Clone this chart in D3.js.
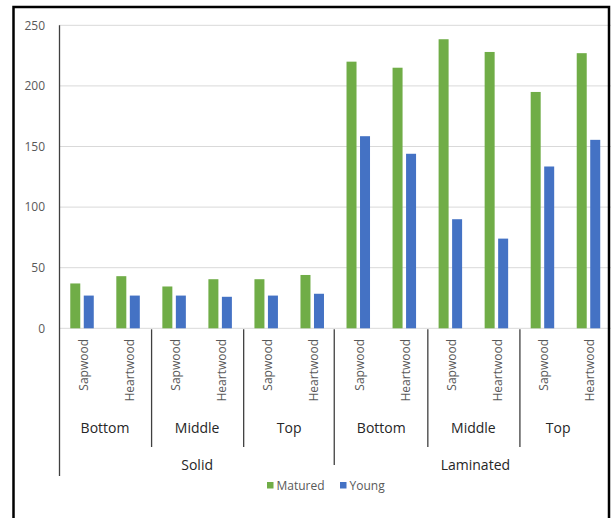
<!DOCTYPE html>
<html>
<head>
<meta charset="utf-8">
<script src="https://cdn.jsdelivr.net/npm/d3@7"></script>
<style>
  html, body { margin: 0; padding: 0; background: #fff; }
  svg { display: block; }
  text { font-family: "Open Sans", sans-serif; }
</style>
</head>
<body>
<svg id="chart" width="611" height="518"></svg>
<script>
// ---- data ----
const materials = ["Solid", "Laminated"];
const positions = ["Bottom", "Middle", "Top"];
const woods = ["Sapwood", "Heartwood"];
const seriesNames = ["Matured", "Young"];
const matured = [37, 43, 34.5, 40.5, 40.5, 44, 220, 215, 238.5, 228, 195, 227];
const young = [27, 27, 27, 26, 27, 28.5, 158.5, 144, 90, 74, 133.5, 155.5];
const yTicks = [0, 50, 100, 150, 200, 250];
const colors = ["#70AD47", "#4472C4"];

// build categories (material > position > wood)
const cats = [];
materials.forEach(m => positions.forEach(p => woods.forEach(w => cats.push({m, p, w, id: m + "|" + p + "|" + w}))));
cats.forEach((c, i) => { c.values = [matured[i], young[i]]; });

const svg = d3.select("#chart");
const plotLeft = 59, plotRight = 611.5, plotTop = 25.3, plotBottom = 328.3;
const visibleRight = 597; // label area is clipped by the frame on the right

const x = d3.scaleBand().domain(cats.map(c => c.id)).range([plotLeft, plotRight]).paddingInner(0).paddingOuter(0);
const y = d3.scaleLinear().domain([0, 250]).range([plotBottom, plotTop]);

const barW = 10, barGap = 3.5;
const groupW = barW * 2 + barGap;

// gridlines
svg.append("g").selectAll("line").data(yTicks).join("line")
  .attr("x1", plotLeft).attr("x2", plotRight)
  .attr("y1", d => y(d)).attr("y2", d => y(d))
  .attr("stroke", "#d9d9d9").attr("stroke-width", 1);

// y tick labels
const yAxis = svg.append("g").attr("transform", `translate(${plotLeft},0)`)
  .call(d3.axisLeft(y).tickValues(yTicks).tickSize(0).tickPadding(14));
yAxis.select(".domain").remove();
yAxis.selectAll("text").attr("font-size", 12).attr("fill", "#595959").attr("font-family", "Open Sans, sans-serif");

// bars
const g = svg.append("g");
cats.forEach(c => {
  const cx = x(c.id) + x.bandwidth() / 2;
  c.values.forEach((v, s) => {
    g.append("rect")
      .attr("x", cx - groupW / 2 + s * (barW + barGap))
      .attr("width", barW)
      .attr("y", y(v))
      .attr("height", y(0) - y(v))
      .attr("fill", colors[s]);
  });
});

// y axis line (dark, extends through category labels)
svg.append("line").attr("x1", plotLeft + 0.5).attr("x2", plotLeft + 0.5).attr("y1", plotTop).attr("y2", 476)
  .attr("stroke", "#404040").attr("stroke-width", 1.3);

// level 3 labels (rotated)
cats.forEach(c => {
  const cx = x(c.id) + x.bandwidth() / 2;
  svg.append("text")
    .attr("transform", `translate(${cx + 1},339) rotate(-90)`)
    .attr("text-anchor", "end")
    .attr("dominant-baseline", "central")
    .attr("font-size", 12)
    .attr("fill", "#595959")
    .text(c.w);
});

// level 2 labels and dividers
const divColor = "#404040";
materials.forEach((m, mi) => {
  positions.forEach((p, pi) => {
    const first = x(m + "|" + p + "|" + woods[0]);
    const last = Math.min(visibleRight, x(m + "|" + p + "|" + woods[woods.length - 1]) + x.bandwidth());
    svg.append("text")
      .attr("x", (first + last) / 2).attr("y", 427)
      .attr("text-anchor", "middle").attr("dominant-baseline", "central")
      .attr("font-size", 14).attr("fill", "#262626")
      .text(p);
    if (pi > 0) {
      svg.append("line").attr("x1", first + 0.5).attr("x2", first + 0.5)
        .attr("y1", plotBottom + 1).attr("y2", 447)
        .attr("stroke", divColor).attr("stroke-width", 1.3);
    }
  });
  const mFirst = x(m + "|" + positions[0] + "|" + woods[0]);
  const mLast = x(m + "|" + positions[positions.length - 1] + "|" + woods[woods.length - 1]) + x.bandwidth();
  svg.append("text")
    .attr("x", (mFirst + mLast) / 2 + (mi > 0 ? 2 : 0)).attr("y", 464)
    .attr("text-anchor", "middle").attr("dominant-baseline", "central")
    .attr("font-size", 14).attr("fill", "#262626")
    .text(m);
  if (mi > 0) {
    svg.append("line").attr("x1", mFirst - 1).attr("x2", mFirst - 1)
      .attr("y1", plotBottom + 1).attr("y2", 465)
      .attr("stroke", divColor).attr("stroke-width", 1.3);
  }
});

// legend
const legend = svg.append("g");
const legendX = [267, 340];
seriesNames.forEach((s, i) => {
  legend.append("rect").attr("x", legendX[i]).attr("y", 482).attr("width", 6.5).attr("height", 6.5).attr("fill", colors[i]);
  legend.append("text").attr("x", legendX[i] + 9.5).attr("y", 485.5)
    .attr("dominant-baseline", "central").attr("font-size", 12).attr("fill", "#595959").text(s);
});

// outer frame
svg.append("rect").attr("x", 13.5).attr("y", 7).attr("width", 595.5).attr("height", 530)
  .attr("fill", "none").attr("stroke", "#000").attr("stroke-width", 2.5);
</script>
</body>
</html>
